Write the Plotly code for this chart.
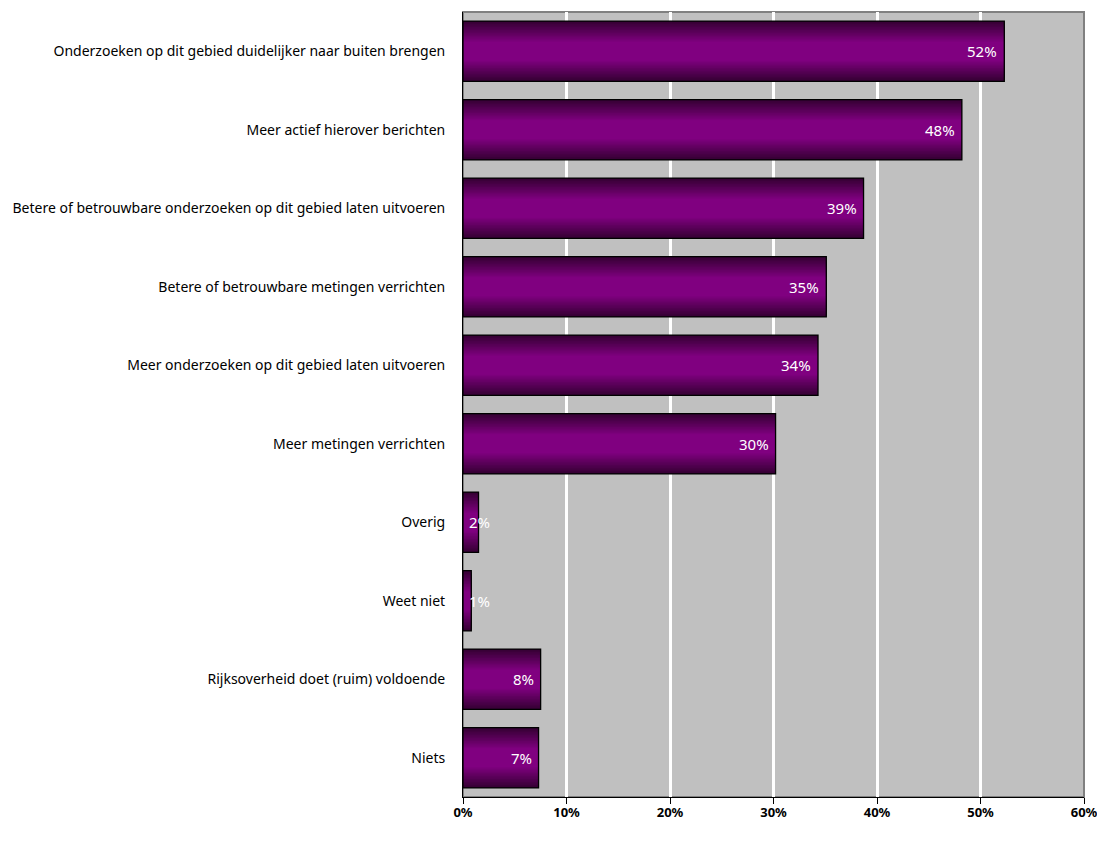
import plotly.graph_objects as go

categories = [
    "Onderzoeken op dit gebied duidelijker naar buiten brengen",
    "Meer actief hierover berichten",
    "Betere of betrouwbare onderzoeken op dit gebied laten uitvoeren",
    "Betere of betrouwbare metingen verrichten",
    "Meer onderzoeken op dit gebied laten uitvoeren",
    "Meer metingen verrichten",
    "Overig",
    "Weet niet",
    "Rijksoverheid doet (ruim) voldoende",
    "Niets",
]
values = [52.3, 48.2, 38.7, 35.1, 34.3, 30.2, 1.5, 0.8, 7.5, 7.3]
labels = ["52%", "48%", "39%", "35%", "34%", "30%", "2%", "1%", "8%", "7%"]
tick_vals = [0, 10, 20, 30, 40, 50, 60]
tick_text = ["0%", "10%", "20%", "30%", "40%", "50%", "60%"]

FONT = "Noto Sans"
BAR_W = 0.77
dark = (0x36, 0x00, 0x34)
mid = (0x80, 0x00, 0x80)

fig = go.Figure()

# gradient simulated with stacked overlaid bars of decreasing width
N = 14
d_edge = BAR_W / 2
d_flat = 0.12
for k in range(N + 1):
    d = d_edge - (d_edge - d_flat) * k / N
    t = k / N
    c = tuple(int(round(dark[i] + (mid[i] - dark[i]) * t)) for i in range(3))
    fig.add_trace(go.Bar(
        y=categories, x=values, orientation="h", width=2 * d,
        marker=dict(color="rgb(%d,%d,%d)" % c, line=dict(width=0)),
        hoverinfo="skip", showlegend=False,
    ))
# outline
fig.add_trace(go.Bar(
    y=categories, x=values, orientation="h", width=BAR_W,
    marker=dict(color="rgba(0,0,0,0)", line=dict(color="black", width=1.3)),
    showlegend=False,
))

annotations = []
for cat, v, lab in zip(categories, values, labels):
    if v < 4:
        annotations.append(dict(x=0, y=cat, xref="x", yref="y", text=lab,
                                xanchor="left", xshift=4, showarrow=False,
                                font=dict(family=FONT, size=15, color="white")))
    else:
        annotations.append(dict(x=v, y=cat, xref="x", yref="y", text=lab,
                                xanchor="right", xshift=-5, showarrow=False,
                                font=dict(family=FONT, size=15, color="white")))

fig.update_layout(
    width=1097, height=825,
    margin=dict(l=455, r=21, t=4, b=36),
    paper_bgcolor="white", plot_bgcolor="#c0c0c0",
    barmode="overlay",
    annotations=annotations,
    font=dict(family=FONT, size=14, color="black"),
    xaxis=dict(range=[0, 60], tickvals=tick_vals, ticktext=tick_text,
               showgrid=True, gridcolor="white", gridwidth=3,
               zeroline=False, showline=True, linecolor="black", linewidth=1,
               ticks="outside", ticklen=6, tickcolor="black",
               ticklabelstandoff=-3, ticklabeloverflow="allow",
               tickfont=dict(family=FONT, size=13, color="black", weight="bold")),
    yaxis=dict(autorange="reversed", showgrid=False, zeroline=False,
               showline=True, linecolor="black", linewidth=1,
               ticks="", ticklabelstandoff=14,
               tickfont=dict(family=FONT, size=14, color="black")),
    shapes=[dict(type="rect", xref="paper", yref="paper", x0=0, x1=1, y0=0, y1=1,
                 line=dict(color="#808080", width=2), layer="below")],
)

fig.write_html("out.html")
